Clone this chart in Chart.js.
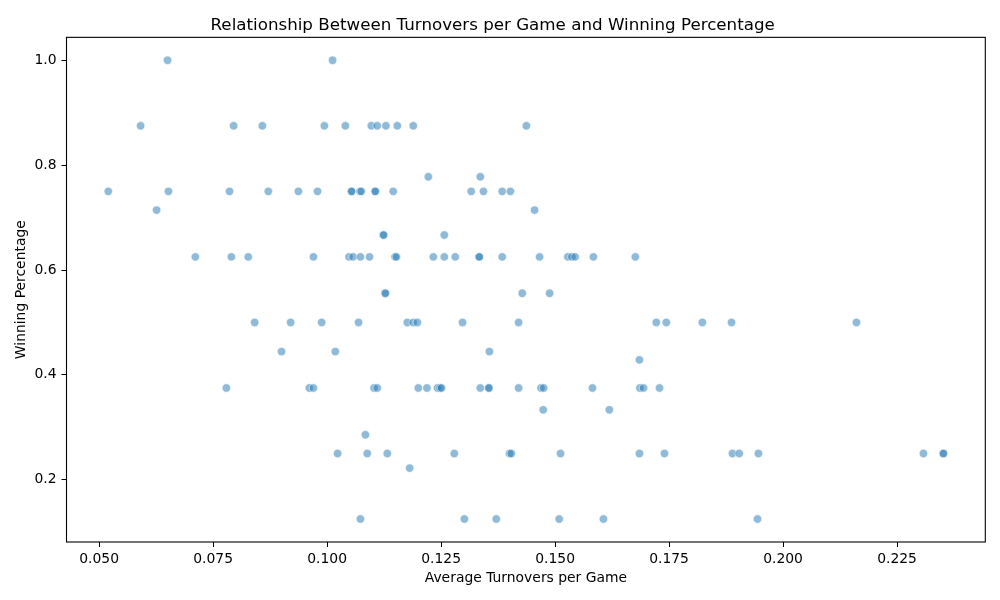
<!DOCTYPE html>
<html>
<head>
<meta charset="utf-8">
<title>Turnovers vs Winning Percentage</title>
<script src="https://cdn.jsdelivr.net/npm/chart.js@4.4.1/dist/chart.umd.min.js"></script>
<style>
  body { margin: 0; background: #fff; }
  canvas { display: block; }
</style>
</head>
<body>
<canvas id="myChart" width="1000" height="600"></canvas>
<script>
// winning percentage levels and the average turnovers per game of each point on that level
var winLevels = [1.0, 0.875, 0.7778, 0.75, 0.7143, 0.6667, 0.625, 0.5556, 0.5,
                 0.4444, 0.4286, 0.375, 0.3333, 0.2857, 0.25, 0.2222, 0.125];
var turnoverGroups = [
  [0.0650, 0.1012],
  [0.0591, 0.0795, 0.0858, 0.0994, 0.1040, 0.1097, 0.1110, 0.1129, 0.1154, 0.1189, 0.1437],
  [0.1222, 0.1336],
  [0.0520, 0.0652, 0.0786, 0.0871, 0.0937, 0.0979, 0.1053, 0.1054, 0.1072, 0.1075, 0.1105, 0.1106, 0.1145, 0.1316, 0.1343, 0.1384, 0.1402],
  [0.0626, 0.1455],
  [0.1123, 0.1124, 0.1257],
  [0.0711, 0.0790, 0.0827, 0.0970, 0.1048, 0.1057, 0.1073, 0.1093, 0.1149, 0.1152, 0.1233, 0.1257, 0.1281, 0.1333, 0.1334, 0.1384, 0.1466, 0.1528, 0.1537, 0.1544, 0.1584, 0.1676],
  [0.1127, 0.1128, 0.1428, 0.1488],
  [0.0841, 0.0920, 0.0988, 0.1069, 0.1176, 0.1189, 0.1198, 0.1297, 0.1420, 0.1722, 0.1744, 0.1823, 0.1887, 0.2161],
  [0.0900, 0.1018, 0.1356],
  [0.1685],
  [0.0779, 0.0961, 0.0970, 0.1103, 0.1110, 0.1200, 0.1219, 0.1242, 0.1248, 0.1251, 0.1336, 0.1354, 0.1355, 0.1420, 0.1469, 0.1475, 0.1582, 0.1686, 0.1694, 0.1729],
  [0.1474, 0.1619],
  [0.1084],
  [0.1023, 0.1088, 0.1132, 0.1279, 0.1400, 0.1404, 0.1512, 0.1685, 0.1740, 0.1889, 0.1904, 0.1946, 0.2308, 0.2351, 0.2352],
  [0.1181],
  [0.1073, 0.1301, 0.1371, 0.1509, 0.1606, 0.1944]
];
var xTicks = [0.050, 0.075, 0.100, 0.125, 0.150, 0.175, 0.200, 0.225];
var yTicks = [0.2, 0.4, 0.6, 0.8, 1.0];

var points = [];
for (var i = 0; i < winLevels.length; i++) {
  for (var j = 0; j < turnoverGroups[i].length; j++) {
    points.push({x: turnoverGroups[i][j], y: winLevels[i]});
  }
}

// matplotlib style 5% margins around the data
function paddedRange(vals) {
  var lo = Math.min.apply(null, vals), hi = Math.max.apply(null, vals);
  var pad = (hi - lo) * 0.05;
  return [lo - pad, hi + pad];
}
var xRange = paddedRange(points.map(function (p) { return p.x; }));
var yRange = paddedRange(points.map(function (p) { return p.y; }));

// full box around the plot area
var frame = {
  id: 'frame',
  afterDraw: function (chart) {
    var a = chart.chartArea, ctx = chart.ctx;
    ctx.save();
    ctx.strokeStyle = '#000';
    ctx.lineWidth = 1.1;
    ctx.strokeRect(a.left, a.top, a.right - a.left, a.bottom - a.top);
    ctx.restore();
  }
};

Chart.defaults.font.family = 'DejaVu Sans';
Chart.defaults.color = '#000';

new Chart(document.getElementById('myChart'), {
  type: 'scatter',
  data: {
    datasets: [{
      label: 'Teams',
      data: points,
      backgroundColor: 'rgba(31,119,180,0.5)',
      borderColor: 'rgba(255,255,255,0.5)',
      borderWidth: 1,
      pointRadius: 4.2,
      pointHoverRadius: 4.2
    }]
  },
  options: {
    responsive: false,
    devicePixelRatio: 1,
    animation: false,
    layout: {padding: {left: 0, right: 14.7, top: 0, bottom: 0}},
    plugins: {
      legend: {display: false},
      tooltip: {enabled: false},
      title: {
        display: true,
        text: 'Relationship Between Turnovers per Game and Winning Percentage',
        font: {size: 16.7, weight: 'normal'},
        padding: {top: 15.5, bottom: 1.8}
      }
    },
    scales: {
      x: {
        type: 'linear',
        min: xRange[0],
        max: xRange[1],
        afterBuildTicks: function (scale) {
          scale.ticks = xTicks.map(function (v) { return {value: v}; });
        },
        afterFit: function (scale) { scale.height = 58; },
        ticks: {
          font: {size: 13.9},
          padding: 4,
          maxRotation: 0,
          callback: function (v) { return v.toFixed(3); }
        },
        grid: {display: true, drawOnChartArea: false, drawTicks: true, tickLength: 5, color: '#000'},
        border: {display: false},
        title: {
          display: true,
          text: 'Average Turnovers per Game',
          font: {size: 13.9},
          padding: {top: 4, bottom: 13}
        }
      },
      y: {
        type: 'linear',
        min: yRange[0],
        max: yRange[1],
        afterBuildTicks: function (scale) {
          scale.ticks = yTicks.map(function (v) { return {value: v}; });
        },
        afterFit: function (scale) { scale.width = 66.5; },
        ticks: {
          font: {size: 13.9},
          padding: 5,
          callback: function (v) { return v.toFixed(1); }
        },
        grid: {display: true, drawOnChartArea: false, drawTicks: true, tickLength: 5, color: '#000'},
        border: {display: false},
        title: {
          display: true,
          text: 'Winning Percentage',
          font: {size: 13.9},
          padding: {top: 13, bottom: 4}
        }
      }
    }
  },
  plugins: [frame]
});
</script>
</body>
</html>
